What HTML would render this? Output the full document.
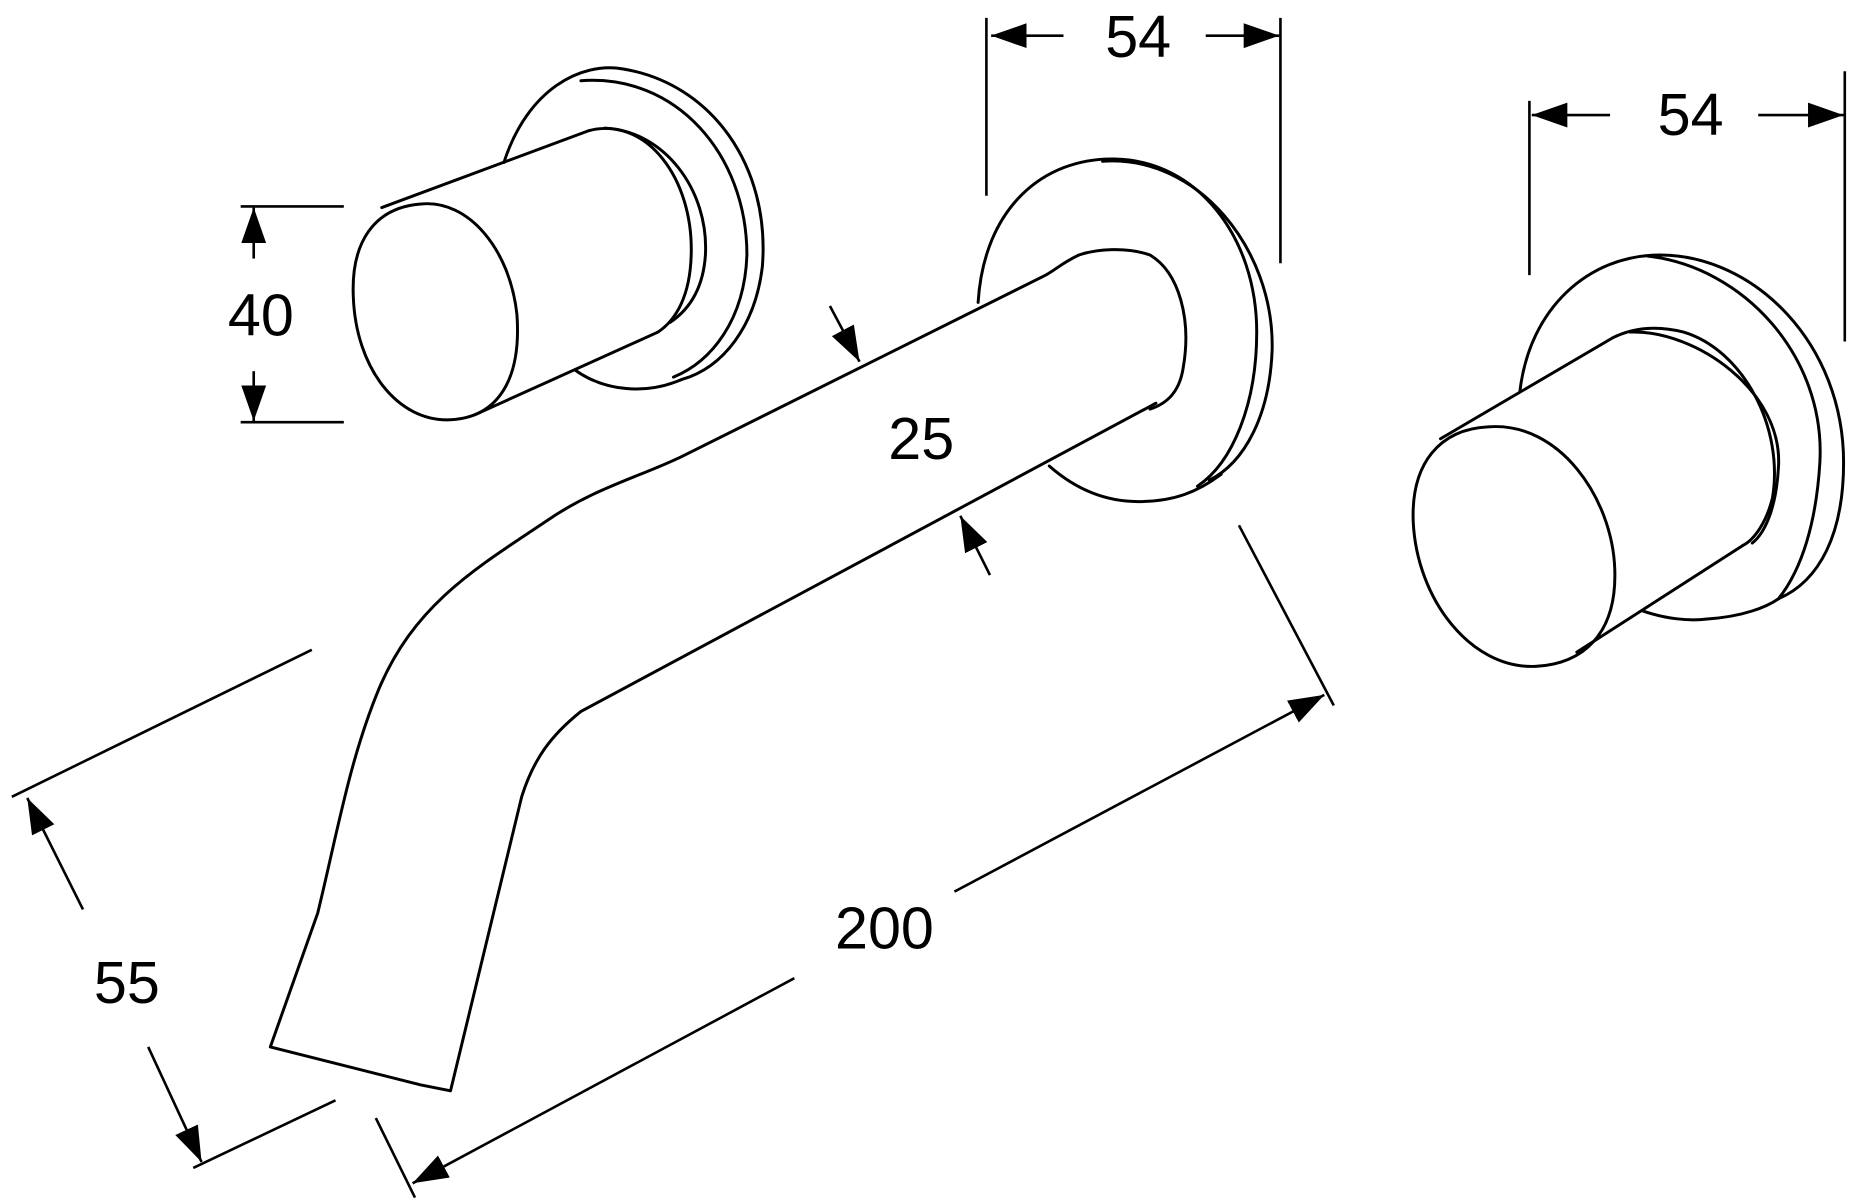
<!DOCTYPE html>
<html><head><meta charset="utf-8"><style>html,body{margin:0;padding:0;background:#fff}svg{display:block}</style></head><body>
<svg width="1859" height="1200" viewBox="0 0 1568 1012" xmlns="http://www.w3.org/2000/svg">
<defs><marker id="a" viewBox="0 0 10 10" refX="10" refY="5" markerWidth="30" markerHeight="30" markerUnits="userSpaceOnUse" orient="auto"><path d="M0,1.5 L10,5 L0,8.5 Z" fill="#000"/></marker></defs>
<g fill="none" stroke="#000" stroke-width="2.5" stroke-linejoin="round" stroke-linecap="round">
<path d="M425,137 C445,75 490,52 525,58 C600,70 650,140 643,225 C637,275 610,310 575,320"/>
<path d="M490,68 C570,62 630,130 630,215 C628,270 600,305 568,318"/>
<path d="M485,312 C510,330 545,333 575,320"/>
<path d="M497,110 C545,98 585,150 583,215 C582,250 570,270 555,280"/>
<path d="M510,108 C560,110 598,160 595,215 C593,245 580,262 565,272"/>
<path d="M322,175 L497,110"/>
<path d="M400,350 L555,280"/>
<path d="M355,172 C395,168 430,210 436,265 C440,320 420,352 380,354 C335,356 300,310 298,250 C296,205 315,175 355,172 Z"/>
<path d="M825,255 C830,175 880,133 940,134 C1010,135 1060,200 1060,280 C1060,340 1040,390 1010,410"/>
<path d="M930,136 C1010,130 1075,210 1073,295 C1071,350 1050,390 1020,405"/>
<path d="M885,393 C910,415 935,423 960,423 C990,423 1010,415 1030,400"/>
<path d="M910,215 C925,210 950,208 970,215 C995,230 1005,270 998,310 C995,330 985,340 970,345"/>
<path d="M910,215 C895,222 890,228 880,233 L575,385 C540,402 500,412 460,440 C400,480 350,510 320,580 C295,640 285,700 268,770 L228,883 L355,915 L380,920 L440,672 C450,640 465,620 490,600 L975,340"/>
<path d="M1282,330 C1290,260 1340,215 1400,215 C1480,215 1555,290 1555,390 C1555,450 1535,490 1500,505"/>
<path d="M1390,216 C1470,225 1540,300 1535,390 C1532,440 1520,480 1500,505"/>
<path d="M1385,515 C1405,522 1425,524 1440,522 C1470,520 1490,512 1500,505"/>
<path d="M1360,285 C1380,275 1400,275 1420,280 C1470,295 1505,360 1495,420 C1490,440 1480,455 1470,460"/>
<path d="M1375,280 C1430,278 1505,330 1500,395 C1498,430 1488,450 1478,458"/>
<path d="M1215,370 L1360,285"/>
<path d="M1330,550 L1470,460"/>
<path d="M1255,360 C1315,355 1360,420 1362,480 C1364,535 1335,560 1295,562 C1240,564 1195,505 1192,440 C1190,390 1215,362 1255,360 Z"/>
</g>
<g fill="none" stroke="#000" stroke-width="2.2">
<path d="M832,15 V165 M1080,15 V222"/>
<path d="M897,30 H836" marker-end="url(#a)"/><path d="M1017,30 H1079" marker-end="url(#a)"/>
<path d="M1290,85 V232 M1556,60 V288"/>
<path d="M1358,97 H1292" marker-end="url(#a)"/><path d="M1483,97 H1555" marker-end="url(#a)"/>
<path d="M203,174 H290 M203,356 H290"/>
<path d="M214,218 V175" marker-end="url(#a)"/><path d="M214,313 V355" marker-end="url(#a)"/>
<path d="M700,258 L725,305" marker-end="url(#a)"/><path d="M835,485 L810,435" marker-end="url(#a)"/>
<path d="M1045,443 L1125,595 M317,943 L350,1010"/>
<path d="M670,825 L348,998" marker-end="url(#a)"/><path d="M805,752 L1117,586" marker-end="url(#a)"/>
<path d="M10,672 L263,548 M163,985 L283,928"/>
<path d="M70,767 L23,673" marker-end="url(#a)"/><path d="M125,883 L170,980" marker-end="url(#a)"/>
</g>
<g font-family="Liberation Sans, sans-serif" font-size="50" text-anchor="middle" fill="#000">
<text x="960" y="48">54</text>
<text x="1426" y="114">54</text>
<text x="220" y="283">40</text>
<text x="777" y="387">25</text>
<text x="746" y="800">200</text>
<text x="107" y="846">55</text>
</g>
</svg>
</body></html>
